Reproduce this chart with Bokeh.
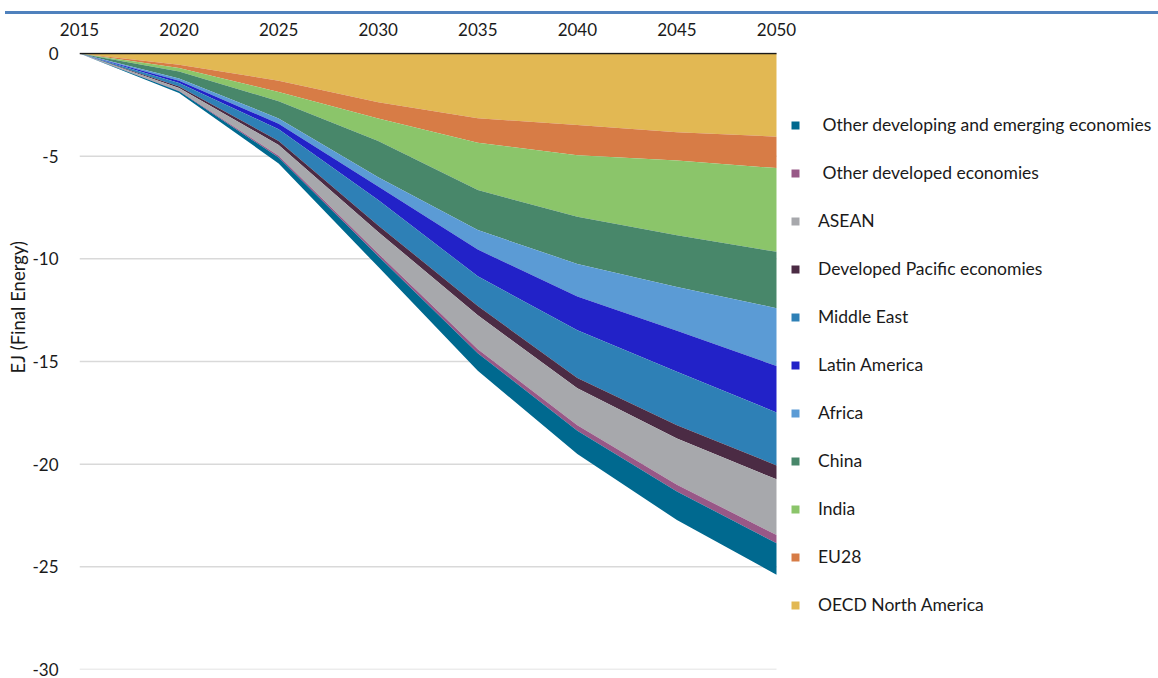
from bokeh.plotting import figure
from bokeh.models import (Range1d, FixedTicker, Legend, LegendItem, ColumnDataSource,
                          Div, Title, PrintfTickFormatter)
from bokeh.layouts import column
from bokeh.embed import file_html
from bokeh.resources import INLINE

# ---------------- data ----------------
years = [2015, 2020, 2025, 2030, 2035, 2040, 2045, 2050]
oecd_north_america = [0, -0.55, -1.32, -2.37, -3.15, -3.48, -3.83, -4.05]
eu28 = [0, -0.16, -0.55, -0.79, -1.20, -1.47, -1.38, -1.53]
india = [0, -0.16, -0.45, -1.10, -2.30, -3.00, -3.64, -4.08]
china = [0, -0.35, -0.84, -1.77, -1.95, -2.30, -2.52, -2.74]
africa = [0, -0.10, -0.26, -0.45, -0.95, -1.58, -2.13, -2.82]
latin_america = [0, -0.12, -0.27, -0.65, -1.30, -1.65, -2.00, -2.26]
middle_east = [0, -0.16, -0.57, -1.24, -1.45, -2.32, -2.60, -2.58]
developed_pacific = [0, -0.08, -0.19, -0.32, -0.45, -0.50, -0.65, -0.68]
asean = [0, -0.13, -0.53, -1.05, -1.65, -1.80, -2.25, -2.71]
other_developed = [0, -0.03, -0.08, -0.13, -0.20, -0.27, -0.33, -0.40]
other_developing = [0, -0.08, -0.29, -0.52, -0.85, -1.13, -1.39, -1.53]

series_keys = ["oecd_na", "eu28", "india", "china", "africa", "latam", "me",
               "devpac", "asean", "othdev", "othdevem"]
series_labels = ["OECD North America", "EU28", "India", "China", "Africa",
                 "Latin America", "Middle East", "Developed Pacific economies",
                 "ASEAN", "\u00a0Other developed economies",
                 "\u00a0Other developing and emerging economies"]
series_values = [oecd_north_america, eu28, india, china, africa, latin_america,
                 middle_east, developed_pacific, asean, other_developed, other_developing]
colors = ["#E2B853", "#D77C46", "#8BC56A", "#48876A", "#5B9BD5", "#2222C8",
          "#2E80B6", "#4B2B44", "#A7A8AC", "#985887", "#00698F"]

y_ticks = [0, -5, -10, -15, -20, -25, -30]
x_ticks = years
y_title = "EJ (Final Energy)"

FONT = "Lato"

data = {"year": years}
for k, v in zip(series_keys, series_values):
    data[k] = v
source = ColumnDataSource(data)

# layout geometry (pixels)
FRAME_LEFT = 79
AXIS_RIGHT = 776          # where 2050 sits
FIG_W = 1158
x_start, x_end = years[0], years[-1]
x_view_end = x_start + (x_end - x_start) * (FIG_W - FRAME_LEFT) / (AXIS_RIGHT - FRAME_LEFT)

# ---------------- figure ----------------
p = figure(width=FIG_W, height=665, output_backend="svg", toolbar_location=None,
           x_axis_location="above",
           x_range=Range1d(x_start, x_view_end), y_range=Range1d(-30, 0.05),
           min_border_left=FRAME_LEFT, min_border_right=0, min_border_top=38,
           min_border_bottom=10)
p.outline_line_color = None
p.background_fill_color = "white"
p.border_fill_color = "white"
p.xgrid.grid_line_color = None
p.ygrid.grid_line_color = None

# horizontal gridlines limited to the plotted years
p.segment(x0=[x_start] * len(y_ticks), x1=[x_end] * len(y_ticks),
          y0=y_ticks, y1=y_ticks, line_color="#D9D9D9", line_width=1.5)

renderers = p.varea_stack(stackers=series_keys, x="year", color=colors, source=source)

# zero (category axis) line
p.segment(x0=[x_start], x1=[x_end], y0=[0], y1=[0], line_color="#1a1a1a", line_width=1.5)

# axes
xa = p.xaxis[0]
xa.ticker = FixedTicker(ticks=x_ticks)
xa.major_tick_line_color = None
xa.minor_tick_line_color = None
xa.axis_line_color = None
xa.major_label_standoff = 11
xa.major_label_text_font = FONT
xa.major_label_text_font_size = "17px"
xa.major_label_text_color = "#1a1a1a"

ya = p.yaxis[0]
ya.ticker = FixedTicker(ticks=y_ticks)
ya.formatter = PrintfTickFormatter(format="%d")
ya.major_tick_line_color = None
ya.minor_tick_line_color = None
ya.axis_line_color = None
ya.major_label_standoff = 15
ya.major_label_text_font = FONT
ya.major_label_text_font_size = "17px"
ya.major_label_text_color = "#1a1a1a"

# y axis title
p.add_layout(Title(text=y_title, align="left", offset=296, text_font=FONT,
                   text_font_size="18.5px", text_font_style="normal",
                   text_color="#1a1a1a", standoff=2), "left")

# legend (reverse order of stacking)
items = [LegendItem(label=lbl, renderers=[r])
         for lbl, r in reversed(list(zip(series_labels, renderers)))]
legend = Legend(items=items, location=(AXIS_RIGHT + 14 - FRAME_LEFT, 54),
                orientation="vertical",
                glyph_width=10, glyph_height=10, label_standoff=18,
                spacing=27, label_height=20, padding=0, margin=0,
                border_line_color=None, background_fill_alpha=0,
                label_text_font=FONT, label_text_font_size="17.5px",
                label_text_color="#1a1a1a")
p.add_layout(legend)

top_line = Div(width=1153, height=3, margin=(11, 0, 0, 5),
               styles={"background-color": "#4F81BD"})

layout = column(top_line, p, spacing=0)
open("out.html", "w").write(file_html(layout, INLINE))
